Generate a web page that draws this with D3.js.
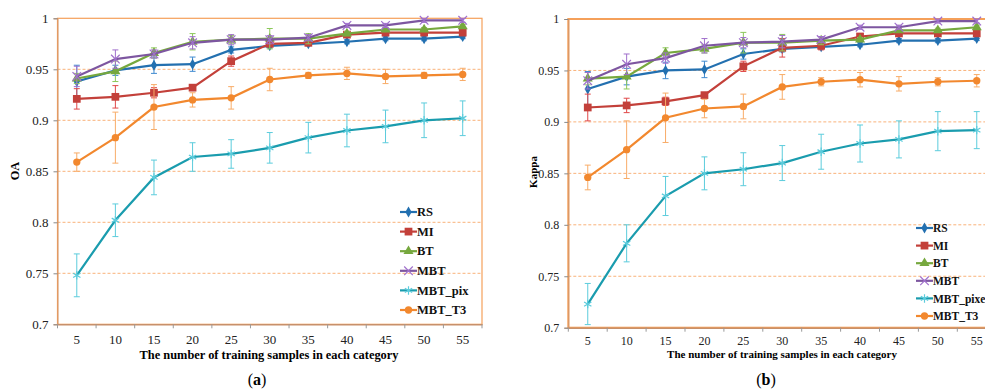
<!DOCTYPE html>
<html>
<head>
<meta charset="utf-8">
<script src="https://cdn.jsdelivr.net/npm/d3@7"></script>
<style>
  body { margin: 0; background: #fff; }
  svg { display: block; }
</style>
</head>
<body>
<svg width="985" height="390"></svg>
<script>
const width = 985, height = 390;
const serif = "'Liberation Serif'";

// categories / ticks
const samples = [5, 10, 15, 20, 25, 30, 35, 40, 45, 50, 55];
const yTicks = [0.7, 0.75, 0.8, 0.85, 0.9, 0.95, 1];
const gridTicks = [0.75, 0.8, 0.85, 0.9, 0.95];

// panel (a) OA
const oaRS     = [0.938, 0.949, 0.954, 0.955, 0.969, 0.973, 0.975, 0.977, 0.980, 0.980, 0.982];
const oaRSErr  = [0.016, 0.005, 0.008, 0.007, 0.003, 0.002, 0.002, 0.002, 0.002, 0.002, 0.002];
const oaMI     = [0.921, 0.923, 0.927, 0.932, 0.958, 0.975, 0.976, 0.984, 0.986, 0.986, 0.986];
const oaMIErr  = [0.010, 0.011, 0.005, 0.002, 0.005, 0.002, 0.002, 0.002, 0.002, 0.002, 0.002];
const oaBT     = [0.941, 0.948, 0.966, 0.977, 0.979, 0.980, 0.980, 0.985, 0.989, 0.989, 0.992];
const oaBTErr  = [0.005, 0.010, 0.005, 0.008, 0.004, 0.010, 0.005, 0.002, 0.002, 0.002, 0.002];
const oaMBT    = [0.943, 0.960, 0.965, 0.976, 0.979, 0.979, 0.981, 0.993, 0.993, 0.998, 0.998];
const oaMBTErr = [0.010, 0.009, 0.004, 0.006, 0.005, 0.004, 0.003, 0.002, 0.002, 0.002, 0.002];
const oaPix    = [0.748, 0.802, 0.844, 0.864, 0.867, 0.873, 0.883, 0.890, 0.894, 0.900, 0.902];
const oaPixErr = [0.021, 0.016, 0.017, 0.014, 0.014, 0.015, 0.015, 0.016, 0.016, 0.017, 0.017];
const oaT3     = [0.859, 0.883, 0.913, 0.920, 0.922, 0.940, 0.944, 0.946, 0.943, 0.944, 0.945];
const oaT3Err  = [0.009, 0.025, 0.022, 0.007, 0.011, 0.011, 0.003, 0.006, 0.007, 0.003, 0.006];

// panel (b) Kappa
const kRS     = [0.932, 0.944, 0.950, 0.951, 0.966, 0.971, 0.973, 0.975, 0.979, 0.979, 0.981];
const kRSErr  = [0.017, 0.008, 0.008, 0.008, 0.005, 0.003, 0.002, 0.002, 0.002, 0.002, 0.002];
const kMI     = [0.914, 0.916, 0.920, 0.926, 0.954, 0.972, 0.974, 0.983, 0.986, 0.986, 0.986];
const kMIErr  = [0.013, 0.007, 0.004, 0.002, 0.005, 0.009, 0.004, 0.002, 0.002, 0.002, 0.002];
const kBT     = [0.942, 0.944, 0.967, 0.971, 0.977, 0.977, 0.979, 0.980, 0.989, 0.989, 0.992];
const kBTErr  = [0.006, 0.012, 0.005, 0.004, 0.010, 0.008, 0.004, 0.002, 0.002, 0.002, 0.002];
const kMBT    = [0.940, 0.956, 0.962, 0.974, 0.977, 0.978, 0.980, 0.992, 0.992, 0.998, 0.998];
const kMBTErr = [0.008, 0.010, 0.005, 0.007, 0.005, 0.006, 0.003, 0.002, 0.002, 0.002, 0.002];
const kPix    = [0.723, 0.782, 0.828, 0.850, 0.854, 0.860, 0.871, 0.879, 0.883, 0.891, 0.892];
const kPixErr = [0.020, 0.018, 0.019, 0.016, 0.016, 0.017, 0.017, 0.018, 0.018, 0.019, 0.018];
const kT3     = [0.846, 0.873, 0.904, 0.913, 0.915, 0.934, 0.939, 0.941, 0.937, 0.939, 0.940];
const kT3Err  = [0.012, 0.028, 0.024, 0.009, 0.012, 0.012, 0.004, 0.007, 0.007, 0.004, 0.006];

const namesA = ["RS", "MI", "BT", "MBT", "MBT_pix", "MBT_T3"];
const namesB = ["RS", "MI", "BT", "MBT", "MBT_pixel", "MBT_T3"];
const lineColor = ["#2370b0", "#c3403a", "#76a83e", "#7d56a0", "#1a9cae", "#f2882e"];
const barColor  = ["#3f8ad0", "#e04848", "#8cc85a", "#a070cc", "#5cccdc", "#f8ac68"];
const markers   = ["diamond", "square", "triangle", "x", "star", "circle"];

const svg = d3.select("svg");

function markerPath(kind) {
    if (kind == "diamond") return d3.symbol(d3.symbolDiamond, 34)();
    if (kind == "square") return d3.symbol(d3.symbolSquare, 60)();
    if (kind == "triangle") return d3.symbol(d3.symbolTriangle, 44)();
    if (kind == "circle") return d3.symbol(d3.symbolCircle, 42)();
    if (kind == "x") return d3.symbol(d3.symbolX, 50)();
    return d3.symbol(d3.symbolAsterisk, 50)();
}

function drawMarker(g, kind, color, x, y) {
    const stroked = kind == "x" || kind == "star";
    g.append("path")
        .attr("d", markerPath(kind))
        .attr("transform", `translate(${x}, ${y})`)
        .attr("fill", stroked ? "none" : color)
        .attr("stroke", stroked ? barColor[markers.indexOf(kind)] : "none")
        .attr("stroke-width", 1.2);
}

function drawPanel(p) {
    const g = svg.append("g");

    const x = d3.scaleBand()
        .domain(samples)
        .range([p.left, p.right]);
    const y = d3.scaleLinear()
        .domain([0.7, 1])
        .range([p.bottom, p.top]);

    // grid lines
    g.append("g")
        .selectAll("line")
        .data(gridTicks)
        .join("line")
            .attr("x1", p.left)
            .attr("x2", p.right)
            .attr("y1", d => y(d))
            .attr("y2", d => y(d))
            .attr("stroke", "#f9b27a")
            .attr("stroke-width", 1)
            .attr("stroke-dasharray", "3,2");

    // plot border
    g.append("rect")
        .attr("x", p.left)
        .attr("y", p.top)
        .attr("width", p.right - p.left)
        .attr("height", p.bottom - p.top)
        .attr("fill", "none")
        .attr("stroke", "#f5a05a")
        .attr("stroke-width", p.border);

    // Y axis
    const yax = g.append("g")
        .attr("transform", `translate(${p.left}, 0)`)
        .call(d3.axisLeft(y).tickValues(yTicks).tickSize(4).tickPadding(5)
            .tickFormat(d => String(+d.toFixed(2))));
    yax.attr("font-family", serif).attr("font-size", p.tickFont);
    yax.select(".domain").attr("stroke", "#d2956a");
    yax.selectAll(".tick line").attr("stroke", "#888");
    yax.selectAll("text").attr("fill", "#222");

    // X axis with ticks between categories
    const xax = g.append("g")
        .attr("transform", `translate(0, ${p.bottom})`)
        .call(d3.axisBottom(x).tickSize(0).tickPadding(p.xPad));
    xax.attr("font-family", serif).attr("font-size", p.tickFont);
    xax.select(".domain").attr("stroke", "#c8906a").attr("stroke-width", 1.5);
    xax.selectAll("text").attr("fill", "#222");
    g.append("g")
        .selectAll("line")
        .data(d3.range(samples.length + 1))
        .join("line")
            .attr("x1", d => p.left + d * x.step())
            .attr("x2", d => p.left + d * x.step())
            .attr("y1", p.bottom)
            .attr("y2", p.bottom + 4)
            .attr("stroke", "#999");

    // axis titles
    g.append("text")
        .attr("transform", `translate(${p.yTitleX}, ${p.yTitleY}) rotate(-90)`)
        .attr("text-anchor", "middle")
        .attr("font-family", serif)
        .attr("font-size", p.titleFont)
        .attr("font-weight", "bold")
        .text(p.yTitle);
    g.append("text")
        .attr("x", p.titleX)
        .attr("y", p.titleY)
        .attr("text-anchor", "middle")
        .attr("font-family", serif)
        .attr("font-size", p.titleFont)
        .attr("font-weight", "bold")
        .text("The number of training samples in each category");

    // series: error bars, lines, markers
    p.series.forEach((s, i) => {
        const sg = g.append("g");
        samples.forEach((c, j) => {
            const cx = x(c) + x.bandwidth() / 2;
            sg.append("line")
                .attr("x1", cx).attr("x2", cx)
                .attr("y1", y(s.v[j] - s.e[j])).attr("y2", y(s.v[j] + s.e[j]))
                .attr("stroke", barColor[i]).attr("stroke-width", 1);
            [s.v[j] - s.e[j], s.v[j] + s.e[j]].forEach(ev => {
                sg.append("line")
                    .attr("x1", cx - 3).attr("x2", cx + 3)
                    .attr("y1", y(ev)).attr("y2", y(ev))
                    .attr("stroke", barColor[i]).attr("stroke-width", 1);
            });
        });
        sg.append("path")
            .datum(samples.map((c, j) => [x(c) + x.bandwidth() / 2, y(s.v[j])]))
            .attr("d", d3.line())
            .attr("fill", "none")
            .attr("stroke", lineColor[i])
            .attr("stroke-width", 2.2);
        samples.forEach((c, j) => {
            drawMarker(sg, markers[i], lineColor[i], x(c) + x.bandwidth() / 2, y(s.v[j]));
        });
    });

    // legend
    const lg = g.append("g");
    p.names.forEach((n, i) => {
        const ly = p.legTop + i * p.legStep;
        lg.append("line")
            .attr("x1", p.legX).attr("x2", p.legX + 17)
            .attr("y1", ly).attr("y2", ly)
            .attr("stroke", lineColor[i]).attr("stroke-width", 2.2);
        drawMarker(lg, markers[i], lineColor[i], p.legX + 8.5, ly);
        lg.append("text")
            .attr("x", p.legX + 17)
            .attr("y", ly + 4.2)
            .attr("font-family", serif)
            .attr("font-size", p.legFont)
            .attr("font-weight", "bold")
            .attr("fill", "#111")
            .text(n);
    });

    // panel caption
    const cap = g.append("text")
        .attr("x", p.capX)
        .attr("y", 385)
        .attr("text-anchor", "middle")
        .attr("font-family", serif)
        .attr("font-size", 16);
    cap.append("tspan").text("(");
    cap.append("tspan").attr("font-weight", "bold").text(p.caption);
    cap.append("tspan").text(")");
}

drawPanel({
    left: 57.5, right: 482, top: 18.3, bottom: 324.3, border: 1.2,
    tickFont: 13, titleFont: 12.4, legFont: 12.5,
    yTitle: "OA", yTitleX: 19, yTitleY: 171, xPad: 10, titleX: 269, titleY: 359,
    names: namesA,
    series: [
        {v: oaRS, e: oaRSErr}, {v: oaMI, e: oaMIErr}, {v: oaBT, e: oaBTErr},
        {v: oaMBT, e: oaMBTErr}, {v: oaPix, e: oaPixErr}, {v: oaT3, e: oaT3Err}
    ],
    legX: 400, legTop: 212, legStep: 19.6,
    capX: 257, caption: "a"
});

drawPanel({
    left: 568.3, right: 996.2, top: 19, bottom: 327.7, border: 2,
    tickFont: 12, titleFont: 11, legFont: 11.5,
    yTitle: "Kappa", yTitleX: 537, yTitleY: 172, xPad: 8.5, titleX: 782, titleY: 358,
    names: namesB,
    series: [
        {v: kRS, e: kRSErr}, {v: kMI, e: kMIErr}, {v: kBT, e: kBTErr},
        {v: kMBT, e: kMBTErr}, {v: kPix, e: kPixErr}, {v: kT3, e: kT3Err}
    ],
    legX: 916, legTop: 228, legStep: 17.6,
    capX: 766, caption: "b"
});
</script>
</body>
</html>
